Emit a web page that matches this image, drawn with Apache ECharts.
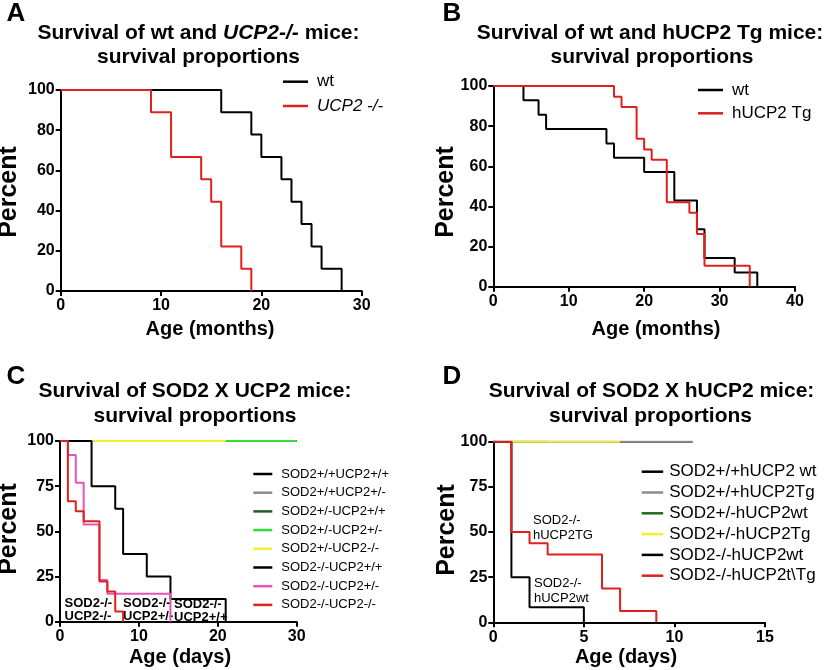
<!DOCTYPE html>
<html>
<head>
<meta charset="utf-8">
<script src="https://cdn.jsdelivr.net/npm/echarts@6/dist/echarts.min.js"></script>
<style>
html,body{margin:0;padding:0;background:#fff;}
#chart{width:827px;height:670px;}
</style>
</head>
<body>
<div id="chart"></div>
<script>
// ---------- DATA ----------
// Panel A (months)
const aWtTime = [0, 16, 19, 20, 22, 23, 24, 25, 26, 28];
const aWtSurv = [100, 88.9, 77.8, 66.7, 55.6, 44.4, 33.3, 22.2, 11.1, 0];
const aKoTime = [0, 9, 11, 14, 15, 16, 18, 19];
const aKoSurv = [100, 88.9, 66.7, 55.6, 44.4, 22.2, 11.1, 0];
// Panel B (months)
const bWtTime = [0, 4, 6, 7, 15, 16, 20, 24, 27, 28, 32, 35];
const bWtSurv = [100, 92.9, 85.7, 78.6, 71.4, 64.3, 57.1, 42.9, 28.6, 14.3, 7.1, 0];
const bTgTime = [0, 16, 17, 19, 20, 21, 23, 26, 27, 28, 34];
const bTgSurv = [100, 94.7, 89.5, 73.7, 68.4, 63.2, 42.1, 36.8, 26.3, 10.5, 0];
// Panel C (days)
const cNames = ['SOD2+/+UCP2+/+', 'SOD2+/+UCP2+/-', 'SOD2+/-UCP2+/+', 'SOD2+/-UCP2+/-', 'SOD2+/-UCP2-/-', 'SOD2-/-UCP2+/+', 'SOD2-/-UCP2+/-', 'SOD2-/-UCP2-/-'];
const cTimes = [
  [0, 30],
  [0, 30],
  [0, 30],
  [0, 30],
  [0, 21],
  [0, 4, 7, 8, 11, 14, 21],
  [0, 1, 2, 3, 5, 6, 14],
  [0, 1, 2, 3, 5, 6, 7, 8]
];
const cSurv = [
  [100, 100],
  [100, 100],
  [100, 100],
  [100, 100],
  [100, 100],
  [100, 75, 62.5, 37.5, 25, 12.5, 0],
  [100, 92.3, 76.9, 53.8, 23.1, 15.4, 0],
  [100, 66.7, 61.1, 55.6, 22.2, 16.7, 5.6, 0]
];
// Panel D (days)
const dNames = ['SOD2+/+hUCP2 wt', 'SOD2+/+hUCP2Tg', 'SOD2+/-hUCP2wt', 'SOD2+/-hUCP2Tg', 'SOD2-/-hUCP2wt', 'SOD2-/-hUCP2t\\Tg'];
const dTimes = [
  [0, 11],
  [0, 11],
  [0, 3],
  [0, 7],
  [0, 1, 2, 5],
  [0, 1, 2, 3, 6, 7, 9]
];
const dSurv = [
  [100, 100],
  [100, 100],
  [100, 100],
  [100, 100],
  [100, 25, 8.3, 0],
  [100, 50, 43.75, 37.5, 18.75, 6.25, 0]
];
// Tick settings
const aTicksX = {max: 30, interval: 10};
const bTicksX = {max: 40, interval: 10};
const cTicksX = {max: 30, interval: 10};
const dTicksX = {max: 15, interval: 5};
const abTicksY = {max: 100, interval: 20};
const cdTicksY = {max: 100, interval: 25};

// ---------- STYLE ----------
const FONT = 'Liberation Sans, Arial, Helvetica, sans-serif';
const RED = '#e0201c';
const cColors = ['#000000', '#8c8c8c', '#1e5e1e', '#33dd33', '#f2ee30', '#000000', '#e455b5', RED];
const dColors = ['#000000', '#8c8c8c', '#1e6b1e', '#f2ee30', '#000000', RED];

function pairs(t, s) { return t.map((v, i) => [v, s[i]]); }

function mkX(grid, tk) {
  return {
    type: 'value', gridIndex: grid, min: 0, max: tk.max, interval: tk.interval,
    axisLine: {show: true, onZero: false, lineStyle: {color: '#000', width: 2}},
    axisTick: {show: true, length: 5, lineStyle: {color: '#000', width: 2}},
    axisLabel: {color: '#000', fontWeight: 'bold', fontSize: 16, fontFamily: FONT, margin: 7},
    splitLine: {show: false}
  };
}
function mkY(grid, tk) {
  return {
    type: 'value', gridIndex: grid, min: 0, max: tk.max, interval: tk.interval,
    axisLine: {show: true, onZero: false, lineStyle: {color: '#000', width: 2}},
    axisTick: {show: true, length: 5, lineStyle: {color: '#000', width: 2}},
    axisLabel: {color: '#000', fontWeight: 'bold', fontSize: 16, fontFamily: FONT, margin: 6},
    splitLine: {show: false}
  };
}
function mkLine(name, grid, data, color) {
  return {
    type: 'line', name: name, step: 'end', xAxisIndex: grid, yAxisIndex: grid,
    data: data, symbol: 'none', color: color,
    lineStyle: {color: color, width: 2}, animation: false
  };
}

const series = [];
series.push(mkLine('wt', 0, pairs(aWtTime, aWtSurv), '#000'));
series.push(mkLine('UCP2 -/-', 0, pairs(aKoTime, aKoSurv), RED));
series.push(mkLine('wt ', 1, pairs(bWtTime, bWtSurv), '#000'));
series.push(mkLine('hUCP2 Tg', 1, pairs(bTgTime, bTgSurv), RED));
cNames.forEach((n, i) => series.push(mkLine(n, 2, pairs(cTimes[i], cSurv[i]), cColors[i])));
dNames.forEach((n, i) => series.push(mkLine(n, 3, pairs(dTimes[i], dSurv[i]), dColors[i])));

function mkLegend(names, left, top, fs, lh, gap, iconW, padL) {
  return {
    data: names, left: left, top: top, orient: 'vertical', padding: 0,
    itemGap: gap, itemWidth: iconW, itemHeight: 2.5, icon: 'rect',
    selectedMode: false,
    textStyle: {fontSize: fs, lineHeight: lh, fontFamily: FONT, color: '#000', padding: [0, 0, 0, padL]}
  };
}

function txt(x, y, text, size, weight, extra) {
  return Object.assign({
    type: 'text', x: x, y: y, silent: true,
    style: {text: text, fontSize: size, fontWeight: weight, fontFamily: FONT, fill: '#000', align: 'center', verticalAlign: 'middle'}
  }, extra || {});
}

const graphics = [
  txt(16, 14, 'A', 26, 'bold'),
  txt(452, 14, 'B', 26, 'bold'),
  txt(16, 377, 'C', 26, 'bold'),
  txt(452, 377, 'D', 26, 'bold'),
  // titles
  {
    type: 'text', x: 198.5, y: 33, silent: true,
    style: {
      text: '{n|Survival of wt and }{i|UCP2-/-}{n| mice:}',
      align: 'center', verticalAlign: 'middle',
      rich: {
        n: {fontSize: 21, fontWeight: 'bold', fontFamily: FONT, fill: '#000'},
        i: {fontSize: 21, fontWeight: 'bold', fontStyle: 'italic', fontFamily: FONT, fill: '#000'}
      }
    }
  },
  txt(198.5, 57, 'survival proportions', 21, 'bold'),
  txt(650, 33, 'Survival of wt and hUCP2 Tg mice:', 21, 'bold'),
  txt(652, 57, 'survival proportions', 21, 'bold'),
  txt(195, 391, 'Survival of SOD2 X UCP2 mice:', 21, 'bold'),
  txt(195, 416, 'survival proportions', 21, 'bold'),
  txt(651.5, 391, 'Survival of SOD2 X hUCP2 mice:', 21, 'bold'),
  txt(650.5, 416, 'survival proportions', 21, 'bold'),
  // axis names
  txt(210, 329, 'Age (months)', 20, 'bold'),
  txt(656, 329, 'Age (months)', 20, 'bold'),
  txt(180, 657, 'Age (days)', 20, 'bold'),
  txt(626, 657, 'Age (days)', 20, 'bold'),
  txt(9.5, 192, 'Percent', 25, 'bold', {rotation: Math.PI / 2}),
  txt(446.5, 192, 'Percent', 25, 'bold', {rotation: Math.PI / 2}),
  txt(9.5, 529, 'Percent', 25, 'bold', {rotation: Math.PI / 2}),
  txt(447, 530, 'Percent', 25, 'bold', {rotation: Math.PI / 2}),
  // annotations C
  txt(64.5, 609.5, 'SOD2-/-\nUCP2-/-', 13, 'bold', {}),
  txt(123, 609.5, 'SOD2-/-\nUCP2+/-', 13, 'bold', {}),
  txt(174, 610.5, 'SOD2-/-\nUCP2+/+', 13, 'bold', {}),
  // annotations D
  txt(533, 527.5, 'SOD2-/-\nhUCP2TG', 13, 'normal', {}),
  txt(534, 591, 'SOD2-/-\nhUCP2wt', 13, 'normal', {})
];
// left-align annotations
graphics.slice(-5).forEach(g => { g.style.align = 'left'; g.style.lineHeight = g.style.fontSize + (g.style.fontWeight === 'bold' ? 0 : 2); });

const option = {
  backgroundColor: '#fff',
  animation: false,
  grid: [
    {left: 60.7, top: 90, width: 301, height: 201},
    {left: 493.3, top: 86, width: 301.7, height: 200.7},
    {left: 60, top: 441, width: 236.7, height: 180.7},
    {left: 493.3, top: 441.7, width: 271.7, height: 180.6}
  ],
  xAxis: [mkX(0, aTicksX), mkX(1, bTicksX), mkX(2, cTicksX), mkX(3, dTicksX)],
  yAxis: [mkY(0, abTicksY), mkY(1, abTicksY), mkY(2, cdTicksY), mkY(3, cdTicksY)],
  legend: [
    mkLegend(['wt', 'UCP2 -/-'], 283, 72.7, 17, 18, 6.3, 25, 4),
    mkLegend(['wt ', 'hUCP2 Tg'], 698, 81, 17, 18, 5.3, 25, 4),
    mkLegend(cNames, 253.3, 467, 13, 14, 4.7, 19, 4),
    mkLegend(dNames, 641.7, 462.7, 17, 18, 2.8, 21.5, 1)
  ],
  series: series,
  graphic: graphics
};
// italic for UCP2 -/- legend entry
option.legend[0].formatter = function (n) { return n === 'UCP2 -/-' ? '{i|' + n + '}' : n; };
option.legend[0].textStyle.rich = {i: {fontStyle: 'italic', fontSize: 17, fontFamily: FONT, color: '#000'}};

const chart = echarts.init(document.getElementById('chart'), null, {renderer: 'canvas'});
chart.setOption(option);
</script>
</body>
</html>
